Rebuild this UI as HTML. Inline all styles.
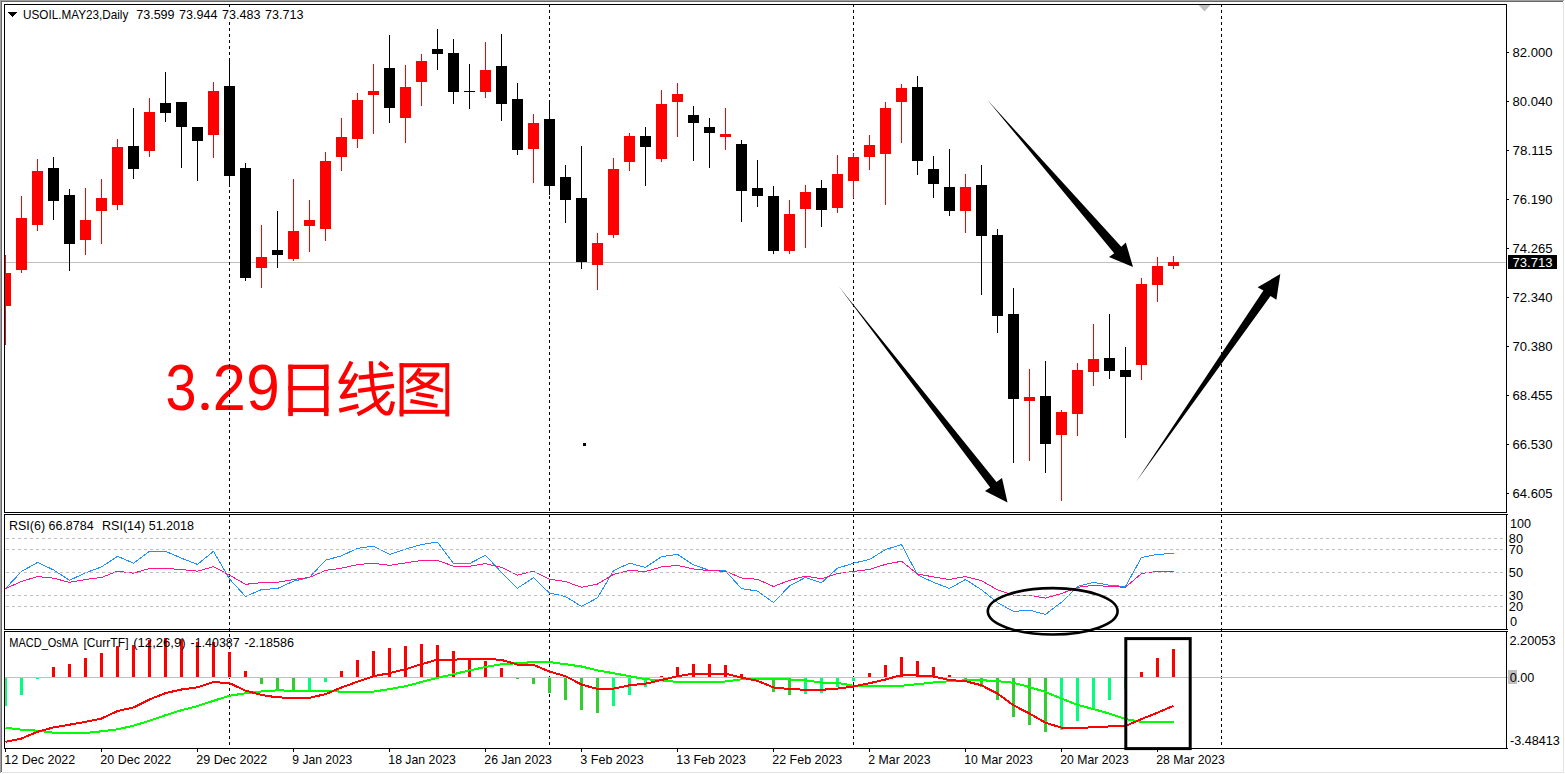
<!DOCTYPE html>
<html><head><meta charset="utf-8"><title>USOIL.MAY23 Daily</title>
<style>
html,body{margin:0;padding:0;background:#fff;}
body{width:1565px;height:774px;overflow:hidden;}
svg{display:block;}
text{font-family:"Liberation Sans",sans-serif;font-size:13px;fill:#000;}
</style></head><body>
<svg width="1565" height="774" viewBox="0 0 1565 774">
<desc>USOIL.MAY23 Daily candlestick chart with RSI and MACD_OsMA panels; label 3.29 &#26085;&#32447;&#22270;</desc>
<rect width="1565" height="774" fill="#fff"/>
<g shape-rendering="crispEdges">
<rect x="0" y="0" width="1565" height="1" fill="#a0a0a0"/><rect x="1" y="1" width="1562" height="1" fill="#696969"/>
<rect x="0" y="0" width="1" height="773" fill="#a0a0a0"/><rect x="1" y="1" width="1" height="771" fill="#696969"/>
<rect x="1563" y="2" width="1" height="771" fill="#e3e3e3"/><rect x="2" y="772" width="1562" height="1" fill="#e3e3e3"/>
<rect x="1564" y="0" width="1" height="774" fill="#fff"/><rect x="0" y="773" width="1565" height="1" fill="#fff"/>
<rect x="5" y="262" width="1502" height="1" fill="#c0c0c0"/>
</g>
<text x="165.5" y="410" style="font-size:64px;fill:#f00" textLength="31.0" lengthAdjust="spacingAndGlyphs">3</text>
<text x="212.7" y="410" style="font-size:64px;fill:#f00" textLength="33.0" lengthAdjust="spacingAndGlyphs">2</text>
<text x="246.3" y="410" style="font-size:64px;fill:#f00" textLength="33.5" lengthAdjust="spacingAndGlyphs">9</text>
<circle cx="205" cy="406.4" r="3.7" fill="#f00"/>
<g fill="#f00" stroke="none">
<rect x="288.3" y="364.7" width="4.6" height="51.4"/><rect x="324.0" y="364.7" width="4.5" height="51.4"/><rect x="288.3" y="364.7" width="40.2" height="4.3"/><rect x="288.3" y="386.0" width="40.2" height="4.3"/><rect x="288.3" y="408.1" width="40.2" height="4.0"/><rect x="399.6" y="363.2" width="4.0" height="53.3"/><rect x="445.3" y="363.2" width="3.9" height="53.3"/><rect x="399.6" y="363.2" width="49.5" height="4.1"/><rect x="399.6" y="409.8" width="49.5" height="4.0"/></g>
<g fill="none" stroke="#f00" stroke-width="3.9" stroke-linecap="butt" stroke-linejoin="round">
<path d="M420 368.3Q415.5 376.5 407.2 382.8"/><path d="M418.5 374.5H437.6Q432.5 381.5 424.9 385.6Q416 389.3 406 391.6"/><path d="M415 377.8Q420 382.5 425 385Q433 388.3 443 390.6"/><path d="M416.2 393.8L433.7 397"/><path d="M410.4 401L437.5 405.9"/></g>
<g fill="none" stroke="#f00" stroke-width="4.2" stroke-linecap="butt" stroke-linejoin="round">
<path d="M351.5 361.6Q346 372.5 340.5 381.9L349.8 381.6"/><path d="M356.6 373.8Q349.5 387 342 396.8L357 394.6"/><path d="M339.3 410.6L358.4 405.9"/><path d="M358.8 377.7L392.8 373.8"/><path d="M358.2 390.9L394 385.8"/><path d="M370.9 361.2C371.3 385 374 402 380.5 409.5C385.5 415 390 415 391.3 408.5L393 401.6"/><path d="M388.8 391.8Q377 405 357.6 414.3"/><path d="M379.3 362.5L388 369.2"/></g>
<g shape-rendering="crispEdges">
<path d="M229 5v2M229 10v3M229 16v3M229 22v3M229 28v3M229 34v3M229 40v3M229 46v3M229 52v3M229 58v3M229 64v3M229 70v3M229 76v3M229 82v3M229 88v3M229 94v3M229 100v3M229 106v3M229 112v3M229 118v3M229 124v3M229 130v3M229 136v3M229 142v3M229 148v3M229 154v3M229 160v3M229 166v3M229 172v3M229 178v3M229 184v3M229 190v3M229 196v3M229 202v3M229 208v3M229 214v3M229 220v3M229 226v3M229 232v3M229 238v3M229 244v3M229 250v3M229 256v3M229 262v3M229 268v3M229 274v3M229 280v3M229 286v3M229 292v3M229 298v3M229 304v3M229 310v3M229 316v3M229 322v3M229 328v3M229 334v3M229 340v3M229 346v3M229 352v3M229 358v3M229 364v3M229 370v3M229 376v3M229 382v3M229 388v3M229 394v3M229 400v3M229 406v3M229 412v3M229 418v3M229 424v3M229 430v3M229 436v3M229 442v3M229 448v3M229 454v3M229 460v3M229 466v3M229 472v3M229 478v3M229 484v3M229 490v3M229 496v3M229 502v3M229 508v3M229 514v3M229 520v3M229 526v3M229 532v3M229 538v3M229 544v3M229 550v3M229 556v3M229 562v3M229 568v3M229 574v3M229 580v3M229 586v3M229 592v3M229 598v3M229 604v3M229 610v3M229 616v3M229 622v3M229 628v3M229 634v3M229 640v3M229 646v3M229 652v3M229 658v3M229 664v3M229 670v3M229 676v3M229 682v3M229 688v3M229 694v3M229 700v3M229 706v3M229 712v3M229 718v3M229 724v3M229 730v3M229 736v3M229 742v3" stroke="#000" stroke-width="1" fill="none" transform="translate(0.5,0)"/>
<path d="M549 5v2M549 10v3M549 16v3M549 22v3M549 28v3M549 34v3M549 40v3M549 46v3M549 52v3M549 58v3M549 64v3M549 70v3M549 76v3M549 82v3M549 88v3M549 94v3M549 100v3M549 106v3M549 112v3M549 118v3M549 124v3M549 130v3M549 136v3M549 142v3M549 148v3M549 154v3M549 160v3M549 166v3M549 172v3M549 178v3M549 184v3M549 190v3M549 196v3M549 202v3M549 208v3M549 214v3M549 220v3M549 226v3M549 232v3M549 238v3M549 244v3M549 250v3M549 256v3M549 262v3M549 268v3M549 274v3M549 280v3M549 286v3M549 292v3M549 298v3M549 304v3M549 310v3M549 316v3M549 322v3M549 328v3M549 334v3M549 340v3M549 346v3M549 352v3M549 358v3M549 364v3M549 370v3M549 376v3M549 382v3M549 388v3M549 394v3M549 400v3M549 406v3M549 412v3M549 418v3M549 424v3M549 430v3M549 436v3M549 442v3M549 448v3M549 454v3M549 460v3M549 466v3M549 472v3M549 478v3M549 484v3M549 490v3M549 496v3M549 502v3M549 508v3M549 514v3M549 520v3M549 526v3M549 532v3M549 538v3M549 544v3M549 550v3M549 556v3M549 562v3M549 568v3M549 574v3M549 580v3M549 586v3M549 592v3M549 598v3M549 604v3M549 610v3M549 616v3M549 622v3M549 628v3M549 634v3M549 640v3M549 646v3M549 652v3M549 658v3M549 664v3M549 670v3M549 676v3M549 682v3M549 688v3M549 694v3M549 700v3M549 706v3M549 712v3M549 718v3M549 724v3M549 730v3M549 736v3M549 742v3" stroke="#000" stroke-width="1" fill="none" transform="translate(0.5,0)"/>
<path d="M853 5v2M853 10v3M853 16v3M853 22v3M853 28v3M853 34v3M853 40v3M853 46v3M853 52v3M853 58v3M853 64v3M853 70v3M853 76v3M853 82v3M853 88v3M853 94v3M853 100v3M853 106v3M853 112v3M853 118v3M853 124v3M853 130v3M853 136v3M853 142v3M853 148v3M853 154v3M853 160v3M853 166v3M853 172v3M853 178v3M853 184v3M853 190v3M853 196v3M853 202v3M853 208v3M853 214v3M853 220v3M853 226v3M853 232v3M853 238v3M853 244v3M853 250v3M853 256v3M853 262v3M853 268v3M853 274v3M853 280v3M853 286v3M853 292v3M853 298v3M853 304v3M853 310v3M853 316v3M853 322v3M853 328v3M853 334v3M853 340v3M853 346v3M853 352v3M853 358v3M853 364v3M853 370v3M853 376v3M853 382v3M853 388v3M853 394v3M853 400v3M853 406v3M853 412v3M853 418v3M853 424v3M853 430v3M853 436v3M853 442v3M853 448v3M853 454v3M853 460v3M853 466v3M853 472v3M853 478v3M853 484v3M853 490v3M853 496v3M853 502v3M853 508v3M853 514v3M853 520v3M853 526v3M853 532v3M853 538v3M853 544v3M853 550v3M853 556v3M853 562v3M853 568v3M853 574v3M853 580v3M853 586v3M853 592v3M853 598v3M853 604v3M853 610v3M853 616v3M853 622v3M853 628v3M853 634v3M853 640v3M853 646v3M853 652v3M853 658v3M853 664v3M853 670v3M853 676v3M853 682v3M853 688v3M853 694v3M853 700v3M853 706v3M853 712v3M853 718v3M853 724v3M853 730v3M853 736v3M853 742v3" stroke="#000" stroke-width="1" fill="none" transform="translate(0.5,0)"/>
<path d="M1221 5v2M1221 10v3M1221 16v3M1221 22v3M1221 28v3M1221 34v3M1221 40v3M1221 46v3M1221 52v3M1221 58v3M1221 64v3M1221 70v3M1221 76v3M1221 82v3M1221 88v3M1221 94v3M1221 100v3M1221 106v3M1221 112v3M1221 118v3M1221 124v3M1221 130v3M1221 136v3M1221 142v3M1221 148v3M1221 154v3M1221 160v3M1221 166v3M1221 172v3M1221 178v3M1221 184v3M1221 190v3M1221 196v3M1221 202v3M1221 208v3M1221 214v3M1221 220v3M1221 226v3M1221 232v3M1221 238v3M1221 244v3M1221 250v3M1221 256v3M1221 262v3M1221 268v3M1221 274v3M1221 280v3M1221 286v3M1221 292v3M1221 298v3M1221 304v3M1221 310v3M1221 316v3M1221 322v3M1221 328v3M1221 334v3M1221 340v3M1221 346v3M1221 352v3M1221 358v3M1221 364v3M1221 370v3M1221 376v3M1221 382v3M1221 388v3M1221 394v3M1221 400v3M1221 406v3M1221 412v3M1221 418v3M1221 424v3M1221 430v3M1221 436v3M1221 442v3M1221 448v3M1221 454v3M1221 460v3M1221 466v3M1221 472v3M1221 478v3M1221 484v3M1221 490v3M1221 496v3M1221 502v3M1221 508v3M1221 514v3M1221 520v3M1221 526v3M1221 532v3M1221 538v3M1221 544v3M1221 550v3M1221 556v3M1221 562v3M1221 568v3M1221 574v3M1221 580v3M1221 586v3M1221 592v3M1221 598v3M1221 604v3M1221 610v3M1221 616v3M1221 622v3M1221 628v3M1221 634v3M1221 640v3M1221 646v3M1221 652v3M1221 658v3M1221 664v3M1221 670v3M1221 676v3M1221 682v3M1221 688v3M1221 694v3M1221 700v3M1221 706v3M1221 712v3M1221 718v3M1221 724v3M1221 730v3M1221 736v3M1221 742v3" stroke="#000" stroke-width="1" fill="none" transform="translate(0.5,0)"/>
</g>
<path d="M1198.5 5H1210.5L1204.5 11.5Z" fill="#c0c0c0"/>
<g shape-rendering="crispEdges">
<rect x="5" y="677" width="1503" height="1" fill="#c0c0c0"/>
<rect x="5" y="255" width="1" height="90" fill="#f00"/><rect x="5" y="273" width="6" height="33" fill="#f00"/>
<rect x="21" y="196" width="1" height="77" fill="#f00"/><rect x="16" y="218" width="11" height="52" fill="#f00"/>
<rect x="37" y="159" width="1" height="72" fill="#f00"/><rect x="32" y="171" width="11" height="54" fill="#f00"/>
<rect x="53" y="157" width="1" height="63" fill="#000"/><rect x="48" y="168" width="11" height="33" fill="#000"/>
<rect x="69" y="189" width="1" height="82" fill="#000"/><rect x="64" y="195" width="11" height="49" fill="#000"/>
<rect x="85" y="188" width="1" height="67" fill="#f00"/><rect x="80" y="220" width="11" height="20" fill="#f00"/>
<rect x="101" y="179" width="1" height="65" fill="#f00"/><rect x="96" y="198" width="11" height="13" fill="#f00"/>
<rect x="117" y="139" width="1" height="71" fill="#f00"/><rect x="112" y="147" width="11" height="58" fill="#f00"/>
<rect x="133" y="108" width="1" height="71" fill="#000"/><rect x="128" y="146" width="11" height="23" fill="#000"/>
<rect x="149" y="98" width="1" height="59" fill="#f00"/><rect x="144" y="112" width="11" height="39" fill="#f00"/>
<rect x="165" y="72" width="1" height="50" fill="#000"/><rect x="160" y="103" width="11" height="10" fill="#000"/>
<rect x="181" y="102" width="1" height="66" fill="#000"/><rect x="176" y="102" width="11" height="25" fill="#000"/>
<rect x="197" y="127" width="1" height="54" fill="#000"/><rect x="192" y="127" width="11" height="14" fill="#000"/>
<rect x="213" y="82" width="1" height="76" fill="#f00"/><rect x="208" y="91" width="11" height="44" fill="#f00"/>
<rect x="229" y="58" width="1" height="128" fill="#000"/><rect x="224" y="86" width="11" height="90" fill="#000"/>
<rect x="245" y="163" width="1" height="118" fill="#000"/><rect x="240" y="168" width="11" height="110" fill="#000"/>
<rect x="261" y="225" width="1" height="63" fill="#f00"/><rect x="256" y="257" width="11" height="11" fill="#f00"/>
<rect x="277" y="211" width="1" height="57" fill="#000"/><rect x="272" y="250" width="11" height="5" fill="#000"/>
<rect x="293" y="179" width="1" height="82" fill="#f00"/><rect x="288" y="231" width="11" height="28" fill="#f00"/>
<rect x="309" y="200" width="1" height="52" fill="#f00"/><rect x="304" y="220" width="11" height="6" fill="#f00"/>
<rect x="325" y="152" width="1" height="89" fill="#f00"/><rect x="320" y="161" width="11" height="68" fill="#f00"/>
<rect x="341" y="118" width="1" height="53" fill="#f00"/><rect x="336" y="137" width="11" height="20" fill="#f00"/>
<rect x="357" y="93" width="1" height="55" fill="#f00"/><rect x="352" y="100" width="11" height="39" fill="#f00"/>
<rect x="373" y="64" width="1" height="70" fill="#f00"/><rect x="368" y="91" width="11" height="4" fill="#f00"/>
<rect x="389" y="35" width="1" height="88" fill="#000"/><rect x="384" y="68" width="11" height="40" fill="#000"/>
<rect x="405" y="65" width="1" height="78" fill="#f00"/><rect x="400" y="87" width="11" height="31" fill="#f00"/>
<rect x="421" y="54" width="1" height="52" fill="#f00"/><rect x="416" y="61" width="11" height="21" fill="#f00"/>
<rect x="437" y="29" width="1" height="41" fill="#000"/><rect x="432" y="49" width="11" height="5" fill="#000"/>
<rect x="453" y="39" width="1" height="65" fill="#000"/><rect x="448" y="53" width="11" height="39" fill="#000"/>
<rect x="469" y="64" width="1" height="45" fill="#000"/><rect x="464" y="91" width="11" height="1" fill="#000"/>
<rect x="485" y="42" width="1" height="56" fill="#f00"/><rect x="480" y="70" width="11" height="22" fill="#f00"/>
<rect x="501" y="34" width="1" height="87" fill="#000"/><rect x="496" y="66" width="11" height="38" fill="#000"/>
<rect x="517" y="83" width="1" height="72" fill="#000"/><rect x="512" y="99" width="11" height="51" fill="#000"/>
<rect x="533" y="114" width="1" height="69" fill="#f00"/><rect x="528" y="123" width="11" height="26" fill="#f00"/>
<rect x="549" y="100" width="1" height="95" fill="#000"/><rect x="544" y="119" width="11" height="67" fill="#000"/>
<rect x="565" y="165" width="1" height="58" fill="#000"/><rect x="560" y="177" width="11" height="23" fill="#000"/>
<rect x="581" y="146" width="1" height="123" fill="#000"/><rect x="576" y="198" width="11" height="64" fill="#000"/>
<rect x="597" y="233" width="1" height="57" fill="#f00"/><rect x="592" y="243" width="11" height="22" fill="#f00"/>
<rect x="613" y="158" width="1" height="80" fill="#f00"/><rect x="608" y="169" width="11" height="66" fill="#f00"/>
<rect x="629" y="133" width="1" height="38" fill="#f00"/><rect x="624" y="136" width="11" height="26" fill="#f00"/>
<rect x="645" y="127" width="1" height="59" fill="#000"/><rect x="640" y="136" width="11" height="11" fill="#000"/>
<rect x="661" y="90" width="1" height="72" fill="#f00"/><rect x="656" y="104" width="11" height="55" fill="#f00"/>
<rect x="677" y="83" width="1" height="54" fill="#f00"/><rect x="672" y="94" width="11" height="8" fill="#f00"/>
<rect x="693" y="106" width="1" height="55" fill="#000"/><rect x="688" y="115" width="11" height="8" fill="#000"/>
<rect x="709" y="118" width="1" height="50" fill="#000"/><rect x="704" y="127" width="11" height="6" fill="#000"/>
<rect x="725" y="108" width="1" height="42" fill="#f00"/><rect x="720" y="134" width="11" height="3" fill="#f00"/>
<rect x="741" y="140" width="1" height="82" fill="#000"/><rect x="736" y="144" width="11" height="47" fill="#000"/>
<rect x="757" y="160" width="1" height="47" fill="#000"/><rect x="752" y="188" width="11" height="8" fill="#000"/>
<rect x="773" y="186" width="1" height="68" fill="#000"/><rect x="768" y="196" width="11" height="55" fill="#000"/>
<rect x="789" y="200" width="1" height="54" fill="#f00"/><rect x="784" y="214" width="11" height="37" fill="#f00"/>
<rect x="805" y="185" width="1" height="63" fill="#f00"/><rect x="800" y="192" width="11" height="17" fill="#f00"/>
<rect x="821" y="180" width="1" height="47" fill="#000"/><rect x="816" y="188" width="11" height="22" fill="#000"/>
<rect x="837" y="155" width="1" height="58" fill="#f00"/><rect x="832" y="174" width="11" height="34" fill="#f00"/>
<rect x="853" y="153" width="1" height="45" fill="#f00"/><rect x="848" y="157" width="11" height="24" fill="#f00"/>
<rect x="869" y="135" width="1" height="35" fill="#f00"/><rect x="864" y="145" width="11" height="12" fill="#f00"/>
<rect x="885" y="102" width="1" height="103" fill="#f00"/><rect x="880" y="108" width="11" height="46" fill="#f00"/>
<rect x="901" y="84" width="1" height="59" fill="#f00"/><rect x="896" y="88" width="11" height="14" fill="#f00"/>
<rect x="917" y="76" width="1" height="99" fill="#000"/><rect x="912" y="87" width="11" height="74" fill="#000"/>
<rect x="933" y="156" width="1" height="42" fill="#000"/><rect x="928" y="169" width="11" height="15" fill="#000"/>
<rect x="949" y="149" width="1" height="67" fill="#000"/><rect x="944" y="187" width="11" height="24" fill="#000"/>
<rect x="965" y="174" width="1" height="59" fill="#f00"/><rect x="960" y="187" width="11" height="24" fill="#f00"/>
<rect x="981" y="165" width="1" height="130" fill="#000"/><rect x="976" y="185" width="11" height="51" fill="#000"/>
<rect x="997" y="229" width="1" height="104" fill="#000"/><rect x="992" y="235" width="11" height="81" fill="#000"/>
<rect x="1013" y="288" width="1" height="175" fill="#000"/><rect x="1008" y="314" width="11" height="85" fill="#000"/>
<rect x="1029" y="369" width="1" height="92" fill="#f00"/><rect x="1024" y="397" width="11" height="4" fill="#f00"/>
<rect x="1045" y="361" width="1" height="112" fill="#000"/><rect x="1040" y="396" width="11" height="48" fill="#000"/>
<rect x="1061" y="410" width="1" height="91" fill="#f00"/><rect x="1056" y="412" width="11" height="23" fill="#f00"/>
<rect x="1077" y="363" width="1" height="73" fill="#f00"/><rect x="1072" y="370" width="11" height="44" fill="#f00"/>
<rect x="1093" y="324" width="1" height="62" fill="#f00"/><rect x="1088" y="359" width="11" height="13" fill="#f00"/>
<rect x="1109" y="314" width="1" height="65" fill="#000"/><rect x="1104" y="358" width="11" height="13" fill="#000"/>
<rect x="1125" y="347" width="1" height="91" fill="#000"/><rect x="1120" y="370" width="11" height="7" fill="#000"/>
<rect x="1141" y="278" width="1" height="102" fill="#f00"/><rect x="1136" y="284" width="11" height="81" fill="#f00"/>
<rect x="1157" y="257" width="1" height="45" fill="#f00"/><rect x="1152" y="266" width="11" height="19" fill="#f00"/>
<rect x="1173" y="256" width="1" height="13" fill="#f00"/><rect x="1168" y="262" width="11" height="4" fill="#f00"/>
<rect x="5" y="678.0" width="2" height="28.0" fill="#00ff7f"/>
<rect x="20" y="678.0" width="3" height="17.0" fill="#00ff7f"/>
<rect x="36" y="678.0" width="3" height="1.0" fill="#00ff7f"/>
<rect x="52" y="667.0" width="3" height="10.0" fill="#f00"/>
<rect x="68" y="664.0" width="3" height="13.0" fill="#f00"/>
<rect x="84" y="658.0" width="3" height="19.0" fill="#f00"/>
<rect x="100" y="653.0" width="3" height="24.0" fill="#f00"/>
<rect x="116" y="646.0" width="3" height="31.0" fill="#f00"/>
<rect x="132" y="645.0" width="3" height="32.0" fill="#f00"/>
<rect x="148" y="640.0" width="3" height="37.0" fill="#f00"/>
<rect x="164" y="638.0" width="3" height="39.0" fill="#f00"/>
<rect x="180" y="639.0" width="3" height="38.0" fill="#f00"/>
<rect x="196" y="642.0" width="3" height="35.0" fill="#f00"/>
<rect x="212" y="642.0" width="3" height="35.0" fill="#f00"/>
<rect x="228" y="652.0" width="3" height="25.0" fill="#f00"/>
<rect x="244" y="671.0" width="3" height="6.0" fill="#f00"/>
<rect x="260" y="678.0" width="3" height="6.0" fill="#32cd32"/>
<rect x="276" y="678.0" width="3" height="13.0" fill="#32cd32"/>
<rect x="292" y="678.0" width="3" height="13.0" fill="#32cd32"/>
<rect x="308" y="678.0" width="3" height="12.0" fill="#00ff7f"/>
<rect x="324" y="678.0" width="3" height="4.0" fill="#00ff7f"/>
<rect x="340" y="671.0" width="3" height="6.0" fill="#f00"/>
<rect x="356" y="660.0" width="3" height="17.0" fill="#f00"/>
<rect x="372" y="651.0" width="3" height="26.0" fill="#f00"/>
<rect x="388" y="648.0" width="3" height="29.0" fill="#f00"/>
<rect x="404" y="646.0" width="3" height="31.0" fill="#f00"/>
<rect x="420" y="644.0" width="3" height="33.0" fill="#f00"/>
<rect x="436" y="645.0" width="3" height="32.0" fill="#f00"/>
<rect x="452" y="651.0" width="3" height="26.0" fill="#f00"/>
<rect x="468" y="658.0" width="3" height="19.0" fill="#f00"/>
<rect x="484" y="661.0" width="3" height="16.0" fill="#f00"/>
<rect x="500" y="668.0" width="3" height="9.0" fill="#f00"/>
<rect x="516" y="678.0" width="3" height="1.0" fill="#32cd32"/>
<rect x="532" y="678.0" width="3" height="6.0" fill="#32cd32"/>
<rect x="548" y="678.0" width="3" height="14.5" fill="#32cd32"/>
<rect x="564" y="678.0" width="3" height="22.0" fill="#32cd32"/>
<rect x="580" y="678.0" width="3" height="32.0" fill="#32cd32"/>
<rect x="596" y="678.0" width="3" height="35.0" fill="#32cd32"/>
<rect x="612" y="678.0" width="3" height="28.0" fill="#00ff7f"/>
<rect x="628" y="678.0" width="3" height="17.0" fill="#00ff7f"/>
<rect x="644" y="678.0" width="3" height="9.0" fill="#00ff7f"/>
<rect x="660" y="676.0" width="3" height="1.0" fill="#f00"/>
<rect x="676" y="667.0" width="3" height="10.0" fill="#f00"/>
<rect x="692" y="664.0" width="3" height="13.0" fill="#f00"/>
<rect x="708" y="664.0" width="3" height="13.0" fill="#f00"/>
<rect x="724" y="665.0" width="3" height="12.0" fill="#f00"/>
<rect x="740" y="674.0" width="3" height="3.0" fill="#f00"/>
<rect x="772" y="678.0" width="3" height="14.0" fill="#32cd32"/>
<rect x="788" y="678.0" width="3" height="17.0" fill="#32cd32"/>
<rect x="804" y="678.0" width="3" height="16.0" fill="#00ff7f"/>
<rect x="820" y="678.0" width="3" height="15.0" fill="#00ff7f"/>
<rect x="836" y="678.0" width="3" height="9.0" fill="#00ff7f"/>
<rect x="852" y="678.0" width="3" height="3.0" fill="#00ff7f"/>
<rect x="868" y="673.0" width="3" height="4.0" fill="#f00"/>
<rect x="884" y="665.0" width="3" height="12.0" fill="#f00"/>
<rect x="900" y="657.0" width="3" height="20.0" fill="#f00"/>
<rect x="916" y="661.0" width="3" height="16.0" fill="#f00"/>
<rect x="932" y="667.0" width="3" height="10.0" fill="#f00"/>
<rect x="948" y="675.0" width="3" height="2.0" fill="#f00"/>
<rect x="964" y="678.0" width="3" height="3.0" fill="#32cd32"/>
<rect x="980" y="678.0" width="3" height="8.5" fill="#32cd32"/>
<rect x="996" y="678.0" width="3" height="22.0" fill="#32cd32"/>
<rect x="1012" y="678.0" width="3" height="39.0" fill="#32cd32"/>
<rect x="1028" y="678.0" width="3" height="47.0" fill="#32cd32"/>
<rect x="1044" y="678.0" width="3" height="54.0" fill="#32cd32"/>
<rect x="1060" y="678.0" width="3" height="52.0" fill="#00ff7f"/>
<rect x="1076" y="678.0" width="3" height="43.0" fill="#00ff7f"/>
<rect x="1092" y="678.0" width="3" height="31.0" fill="#00ff7f"/>
<rect x="1108" y="678.0" width="3" height="22.0" fill="#00ff7f"/>
<rect x="1124" y="678.0" width="3" height="11.0" fill="#00ff7f"/>
<rect x="1140" y="672.0" width="3" height="5.0" fill="#f00"/>
<rect x="1156" y="658.0" width="3" height="19.0" fill="#f00"/>
<rect x="1172" y="649.0" width="3" height="28.0" fill="#f00"/>
</g>
<g shape-rendering="crispEdges">
<polyline points="5.5,588.5 21.5,571.5 37.5,562.4 53.5,569.9 69.5,580.3 85.5,572.9 101.5,566.9 117.5,556.3 133.5,563.2 149.5,551.3 165.5,551.3 181.5,558.2 197.5,564.4 213.5,551.3 229.5,579.0 245.5,596.5 261.5,589.6 277.5,588.5 293.5,581.2 309.5,577.4 325.5,560.2 341.5,555.8 357.5,548.3 373.5,546.1 389.5,554.4 405.5,549.1 421.5,544.5 437.5,542.1 453.5,563.6 469.5,563.6 485.5,555.3 501.5,572.4 517.5,588.2 533.5,577.7 549.5,593.1 565.5,596.5 581.5,606.4 597.5,597.8 613.5,570.7 629.5,563.2 645.5,567.4 661.5,556.6 677.5,554.4 693.5,564.9 709.5,570.4 725.5,571.0 741.5,588.6 757.5,591.1 773.5,602.6 789.5,586.0 805.5,577.4 821.5,582.7 837.5,568.2 853.5,563.2 869.5,559.4 885.5,549.6 901.5,544.5 917.5,574.9 933.5,582.3 949.5,588.5 965.5,579.5 981.5,589.8 997.5,602.6 1013.5,611.4 1029.5,610.2 1045.5,614.4 1061.5,602.3 1077.5,586.5 1093.5,582.3 1109.5,585.2 1125.5,586.5 1141.5,557.4 1157.5,554.4 1173.5,553.4" fill="none" stroke="#1e90ff" stroke-width="1" stroke-linejoin="round" />
<polyline points="5.5,588.5 21.5,581.5 37.5,576.5 53.5,578.2 69.5,582.3 85.5,579.5 101.5,577.5 117.5,571.2 133.5,573.2 149.5,568.5 165.5,568.5 181.5,569.5 197.5,571.2 213.5,566.6 229.5,575.2 245.5,584.3 261.5,582.7 277.5,582.3 293.5,579.5 309.5,577.4 325.5,570.4 341.5,568.2 357.5,564.6 373.5,563.2 389.5,565.4 405.5,562.9 421.5,560.4 437.5,560.4 453.5,566.2 469.5,566.2 485.5,563.6 501.5,567.4 517.5,575.2 533.5,571.2 549.5,579.3 565.5,581.5 581.5,587.3 597.5,584.0 613.5,574.5 629.5,570.4 645.5,571.5 661.5,566.9 677.5,565.4 693.5,569.0 709.5,570.7 725.5,571.2 741.5,578.0 757.5,579.3 773.5,586.5 789.5,580.3 805.5,576.2 821.5,578.7 837.5,573.5 853.5,571.5 869.5,569.4 885.5,564.4 901.5,561.2 917.5,574.0 933.5,576.9 949.5,579.5 965.5,576.5 981.5,580.7 997.5,589.8 1013.5,595.3 1029.5,595.3 1045.5,598.1 1061.5,593.6 1077.5,587.3 1093.5,585.3 1109.5,586.5 1125.5,587.3 1141.5,573.5 1157.5,571.5 1173.5,571.5" fill="none" stroke="#ff1493" stroke-width="1" stroke-linejoin="round" />
<path d="M5 538.5H1506" stroke="#c0c0c0" stroke-width="1" stroke-dasharray="3 3" stroke-dashoffset="5" fill="none"/>
<path d="M5 549.5H1506" stroke="#c0c0c0" stroke-width="1" stroke-dasharray="3 3" stroke-dashoffset="5" fill="none"/>
<path d="M5 572.5H1506" stroke="#c0c0c0" stroke-width="1" stroke-dasharray="3 3" stroke-dashoffset="5" fill="none"/>
<path d="M5 595.5H1506" stroke="#c0c0c0" stroke-width="1" stroke-dasharray="3 3" stroke-dashoffset="5" fill="none"/>
<path d="M5 606.5H1506" stroke="#c0c0c0" stroke-width="1" stroke-dasharray="3 3" stroke-dashoffset="5" fill="none"/>
<polyline points="5.5,727.7 21.5,729.7 37.5,730.7 53.5,732.7 69.5,733.0 85.5,733.0 101.5,731.3 117.5,729.3 133.5,725.7 149.5,720.7 165.5,715.2 181.5,710.2 197.5,706.1 213.5,700.8 229.5,695.8 245.5,693.2 261.5,691.5 277.5,690.3 293.5,690.8 309.5,690.8 325.5,691.1 341.5,691.6 357.5,691.6 373.5,691.6 389.5,689.1 405.5,686.2 421.5,682.0 437.5,677.8 453.5,674.2 469.5,670.4 485.5,667.0 501.5,664.2 517.5,663.2 533.5,662.1 549.5,662.1 565.5,664.2 581.5,666.5 597.5,670.4 613.5,673.2 629.5,676.2 645.5,679.2 661.5,680.3 677.5,682.0 693.5,682.0 709.5,682.0 725.5,681.5 741.5,679.3 757.5,679.0 773.5,679.2 789.5,679.5 805.5,680.3 821.5,682.5 837.5,682.8 853.5,685.8 869.5,685.8 885.5,685.8 901.5,685.8 917.5,684.2 933.5,682.5 949.5,681.2 965.5,680.3 981.5,680.2 997.5,681.2 1013.5,682.8 1029.5,687.0 1045.5,692.0 1061.5,698.6 1077.5,704.8 1093.5,709.1 1109.5,713.6 1125.5,719.0 1141.5,721.9 1157.5,721.9 1173.5,721.9" fill="none" stroke="#00ff00" stroke-width="2" stroke-linejoin="round" />
<polyline points="5.5,741.8 21.5,738.5 37.5,731.8 53.5,727.4 69.5,724.7 85.5,721.9 101.5,718.5 117.5,711.1 133.5,707.4 149.5,699.4 165.5,693.1 181.5,689.5 197.5,687.3 213.5,682.0 229.5,683.2 245.5,690.6 261.5,695.0 277.5,697.4 293.5,697.8 309.5,697.8 325.5,694.1 341.5,687.5 357.5,681.7 373.5,676.2 389.5,673.2 405.5,669.2 421.5,664.2 437.5,659.6 453.5,659.6 469.5,659.2 485.5,658.7 501.5,659.9 517.5,664.6 533.5,664.9 549.5,671.5 565.5,676.2 581.5,684.5 597.5,689.0 613.5,688.6 629.5,685.3 645.5,683.7 661.5,680.0 677.5,676.2 693.5,673.7 709.5,673.7 725.5,673.7 741.5,677.5 757.5,680.8 773.5,687.5 789.5,689.0 805.5,689.8 821.5,689.8 837.5,688.6 853.5,686.5 869.5,683.2 885.5,679.5 901.5,675.0 917.5,675.4 933.5,676.5 949.5,680.0 965.5,681.2 981.5,685.3 997.5,693.6 1013.5,705.3 1029.5,713.6 1045.5,722.7 1061.5,727.7 1077.5,727.7 1093.5,727.4 1109.5,726.4 1125.5,726.0 1141.5,719.0 1157.5,712.7 1173.5,705.8" fill="none" stroke="#ff0000" stroke-width="2" stroke-linejoin="round" />
</g>
<g shape-rendering="crispEdges">
<rect x="4.5" y="4.5" width="1502" height="508" fill="none" stroke="#000" stroke-width="1"/>
<rect x="4.5" y="514.5" width="1502" height="115" fill="none" stroke="#000" stroke-width="1"/>
<rect x="4.5" y="631.5" width="1502" height="117" fill="none" stroke="#000" stroke-width="1"/>
<rect x="1507" y="52" width="2" height="1" fill="#000"/><rect x="1507" y="101" width="2" height="1" fill="#000"/><rect x="1507" y="150" width="2" height="1" fill="#000"/><rect x="1507" y="199" width="2" height="1" fill="#000"/><rect x="1507" y="248" width="2" height="1" fill="#000"/><rect x="1507" y="297" width="2" height="1" fill="#000"/><rect x="1507" y="346" width="2" height="1" fill="#000"/><rect x="1507" y="395" width="2" height="1" fill="#000"/><rect x="1507" y="444" width="2" height="1" fill="#000"/><rect x="1507" y="493" width="2" height="1" fill="#000"/>
<rect x="1507" y="514" width="1" height="1" fill="#000"/><rect x="1507" y="629" width="1" height="1" fill="#000"/><rect x="1507" y="631" width="1" height="1" fill="#000"/><rect x="1507" y="748" width="1" height="1" fill="#000"/>
<rect x="5" y="749" width="1" height="3" fill="#000"/><rect x="101" y="749" width="1" height="3" fill="#000"/><rect x="197" y="749" width="1" height="3" fill="#000"/><rect x="293" y="749" width="1" height="3" fill="#000"/><rect x="389" y="749" width="1" height="3" fill="#000"/><rect x="485" y="749" width="1" height="3" fill="#000"/><rect x="581" y="749" width="1" height="3" fill="#000"/><rect x="677" y="749" width="1" height="3" fill="#000"/><rect x="773" y="749" width="1" height="3" fill="#000"/><rect x="869" y="749" width="1" height="3" fill="#000"/><rect x="965" y="749" width="1" height="3" fill="#000"/><rect x="1061" y="749" width="1" height="3" fill="#000"/><rect x="1157" y="749" width="1" height="3" fill="#000"/>
<rect x="1508" y="255" width="49" height="14" fill="#000"/>
<rect x="1508" y="670" width="9" height="14" fill="#c0c0c0"/>
<rect x="583" y="443" width="3" height="3" fill="#000"/>
</g>
<path d="M987.7 100.3L1121.3 246.8L1125.8 242.5L1133 267L1109 257.1L1114.2 253.3Z" fill="#000"/>
<path d="M839 286.7L996.5 482L1002 478L1007.5 502.5L985 491L990.2 487.5Z" fill="#000"/>
<path d="M1136.3 481.5L1263.4 290.5L1257.6 287.2L1280.3 274.1L1276.4 299.8L1270.5 296.1Z" fill="#000"/>
<ellipse cx="1052.7" cy="611.3" rx="64.9" ry="23.2" fill="none" stroke="#000" stroke-width="2.6"/>
<rect x="1125.8" y="638.6" width="64.4" height="110" fill="none" stroke="#000" stroke-width="3"/>
<rect x="22" y="8" width="283" height="13" fill="#fff"/>
<path d="M8 12h9v1h-1v1h-1v1h-1v1h-1v1h-1v-1h-1v-1h-1v-1h-1v-1h-1z" fill="#000" shape-rendering="crispEdges"/>
<text x="23.0" y="19.0" textLength="105.3" lengthAdjust="spacingAndGlyphs" >USOIL.MAY23,Daily</text>
<text x="136.2" y="19.0" textLength="38.4" lengthAdjust="spacingAndGlyphs" >73.599</text>
<text x="179.1" y="19.0" textLength="38.4" lengthAdjust="spacingAndGlyphs" >73.944</text>
<text x="222.1" y="19.0" textLength="38.4" lengthAdjust="spacingAndGlyphs" >73.483</text>
<text x="265.0" y="19.0" textLength="38.4" lengthAdjust="spacingAndGlyphs" >73.713</text>
<text x="9.0" y="530.0" textLength="84.6" lengthAdjust="spacingAndGlyphs" >RSI(6) 66.8784</text>
<text x="102.0" y="530.0" textLength="92.0" lengthAdjust="spacingAndGlyphs" >RSI(14) 51.2018</text>
<text x="9.3" y="647.0" textLength="69.0" lengthAdjust="spacingAndGlyphs" >MACD_OsMA</text>
<text x="83.5" y="647.0" textLength="45.0" lengthAdjust="spacingAndGlyphs" >[CurrTF]</text>
<text x="133.2" y="647.0" textLength="52.5" lengthAdjust="spacingAndGlyphs" >(12,26,9)</text>
<text x="190.6" y="647.0" textLength="49.0" lengthAdjust="spacingAndGlyphs" >-1.40387</text>
<text x="244.4" y="647.0" textLength="49.5" lengthAdjust="spacingAndGlyphs" >-2.18586</text>
<text x="1512.5" y="57.0" textLength="40.0" lengthAdjust="spacingAndGlyphs" >82.000</text>
<text x="1512.5" y="106.0" textLength="40.0" lengthAdjust="spacingAndGlyphs" >80.040</text>
<text x="1512.5" y="155.0" textLength="40.0" lengthAdjust="spacingAndGlyphs" >78.115</text>
<text x="1512.5" y="204.0" textLength="40.0" lengthAdjust="spacingAndGlyphs" >76.190</text>
<text x="1512.5" y="253.0" textLength="40.0" lengthAdjust="spacingAndGlyphs" >74.265</text>
<text x="1512.5" y="302.0" textLength="40.0" lengthAdjust="spacingAndGlyphs" >72.340</text>
<text x="1512.5" y="351.0" textLength="40.0" lengthAdjust="spacingAndGlyphs" >70.380</text>
<text x="1512.5" y="400.0" textLength="40.0" lengthAdjust="spacingAndGlyphs" >68.455</text>
<text x="1512.5" y="449.0" textLength="40.0" lengthAdjust="spacingAndGlyphs" >66.530</text>
<text x="1512.5" y="498.0" textLength="40.0" lengthAdjust="spacingAndGlyphs" >64.605</text>
<text x="1512.5" y="267.0" textLength="40.0" lengthAdjust="spacingAndGlyphs" style="fill:#fff">73.713</text>
<text x="1510.0" y="528.0" textLength="21.0" lengthAdjust="spacingAndGlyphs" >100</text>
<text x="1508.8" y="543.0" textLength="14.2" lengthAdjust="spacingAndGlyphs" >80</text>
<text x="1508.8" y="554.0" textLength="14.2" lengthAdjust="spacingAndGlyphs" >70</text>
<text x="1508.8" y="577.0" textLength="14.2" lengthAdjust="spacingAndGlyphs" >50</text>
<text x="1508.8" y="600.0" textLength="14.2" lengthAdjust="spacingAndGlyphs" >30</text>
<text x="1508.8" y="611.0" textLength="14.2" lengthAdjust="spacingAndGlyphs" >20</text>
<text x="1510.0" y="626.0" textLength="7.1" lengthAdjust="spacingAndGlyphs" >0</text>
<text x="1509.5" y="645.0" textLength="46.0" lengthAdjust="spacingAndGlyphs" >2.20053</text>
<text x="1509.8" y="682.0" textLength="24.6" lengthAdjust="spacingAndGlyphs" >0.00</text>
<text x="1510.0" y="745.0" textLength="49.8" lengthAdjust="spacingAndGlyphs" >-3.48413</text>
<text x="4.3" y="764.0" textLength="71.0" lengthAdjust="spacingAndGlyphs" >12 Dec 2022</text>
<text x="100.3" y="764.0" textLength="71.0" lengthAdjust="spacingAndGlyphs" >20 Dec 2022</text>
<text x="196.3" y="764.0" textLength="71.0" lengthAdjust="spacingAndGlyphs" >29 Dec 2022</text>
<text x="292.3" y="764.0" textLength="60.0" lengthAdjust="spacingAndGlyphs" >9 Jan 2023</text>
<text x="388.3" y="764.0" textLength="67.6" lengthAdjust="spacingAndGlyphs" >18 Jan 2023</text>
<text x="484.3" y="764.0" textLength="67.6" lengthAdjust="spacingAndGlyphs" >26 Jan 2023</text>
<text x="580.3" y="764.0" textLength="63.5" lengthAdjust="spacingAndGlyphs" >3 Feb 2023</text>
<text x="676.3" y="764.0" textLength="69.6" lengthAdjust="spacingAndGlyphs" >13 Feb 2023</text>
<text x="772.3" y="764.0" textLength="70.0" lengthAdjust="spacingAndGlyphs" >22 Feb 2023</text>
<text x="868.3" y="764.0" textLength="62.2" lengthAdjust="spacingAndGlyphs" >2 Mar 2023</text>
<text x="964.3" y="764.0" textLength="68.6" lengthAdjust="spacingAndGlyphs" >10 Mar 2023</text>
<text x="1060.3" y="764.0" textLength="68.6" lengthAdjust="spacingAndGlyphs" >20 Mar 2023</text>
<text x="1156.3" y="764.0" textLength="68.6" lengthAdjust="spacingAndGlyphs" >28 Mar 2023</text>
</svg>
</body></html>
